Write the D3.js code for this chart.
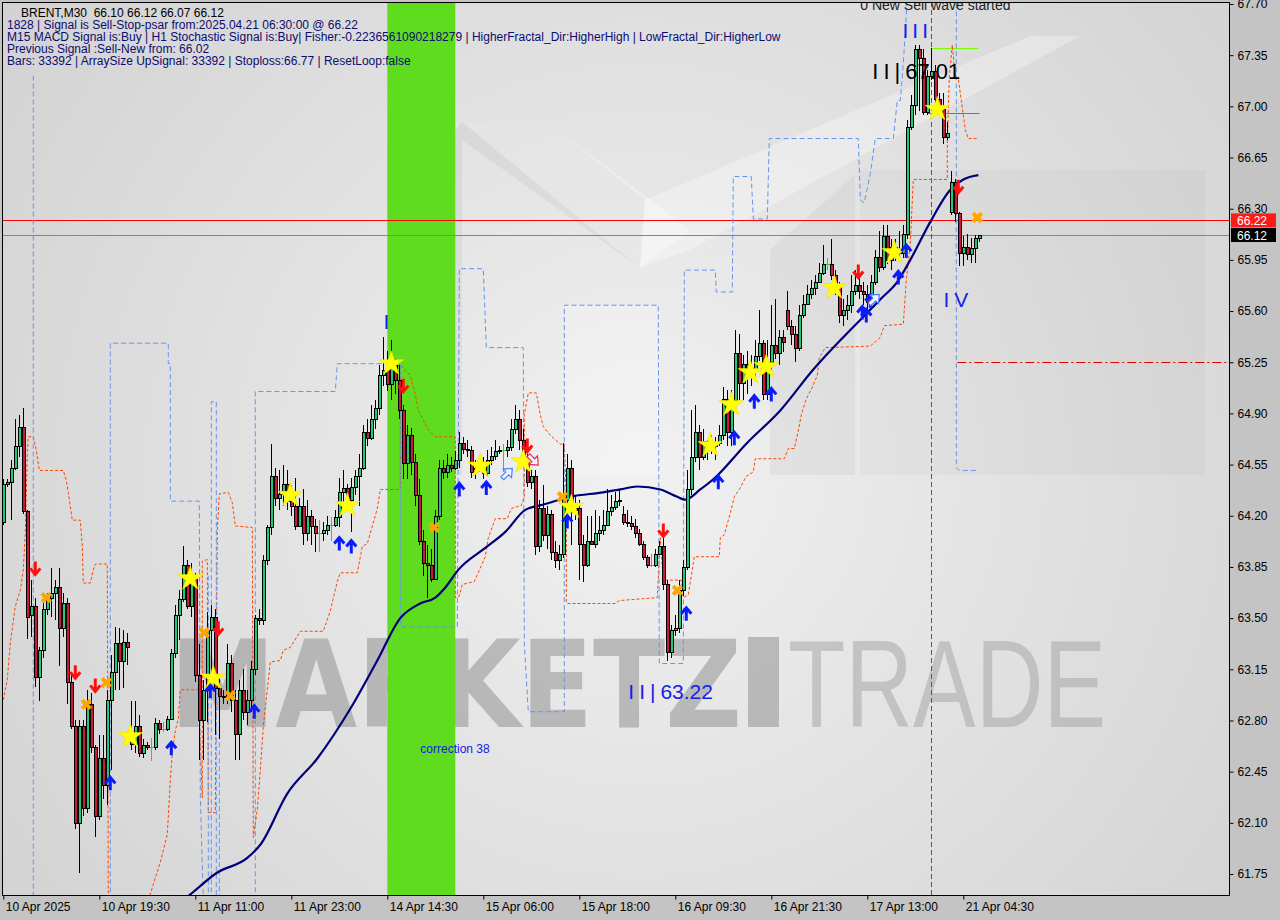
<!DOCTYPE html>
<html><head><meta charset="utf-8">
<script src="https://cdn.jsdelivr.net/npm/d3@7"></script>
<style>
body{margin:0;background:#c4c4c4;}
svg{display:block;font-family:"Liberation Sans",Arial,sans-serif;}
</style></head>
<body><svg id="c" width="1280" height="920"></svg>
<script>
// ---------------- data ----------------
const openP=[64.16,64.42,64.43,64.53,64.68,64.81,64.23,63.52,63.58,63.10,
63.28,63.56,63.64,63.67,63.71,63.43,63.60,63.06,62.76,62.10,
62.76,62.20,62.91,62.62,62.15,62.54,62.36,62.94,63.13,63.33,
63.21,63.34,62.70,62.64,62.76,62.58,62.63,62.62,62.62,62.78,
62.74,62.74,62.81,63.26,63.52,63.63,63.86,63.58,63.77,63.11,
62.80,63.01,63.42,63.51,63.02,62.97,62.96,63.19,62.94,62.71,
63.01,62.86,62.94,63.15,63.50,63.49,63.90,64.12,64.47,64.32,
64.35,64.42,64.30,64.27,64.13,64.27,64.08,64.20,64.13,64.08,
64.08,64.10,64.14,64.14,64.19,64.36,64.39,64.31,64.40,64.47,
64.53,64.77,64.73,64.86,64.94,65.16,65.20,65.10,65.23,65.13,
64.92,64.56,64.75,64.57,64.34,64.03,63.88,63.86,63.77,64.20,
64.53,64.50,64.55,64.53,64.58,64.70,64.66,64.65,64.50,64.53,
64.52,64.49,64.58,64.61,64.64,64.65,64.65,64.67,64.79,64.86,
64.72,64.59,64.43,64.47,63.99,64.25,64.07,64.21,63.95,63.90,
63.94,64.31,64.53,64.24,64.25,64.01,63.86,64.03,64.01,64.08,
64.10,64.14,64.23,64.26,64.30,64.21,64.16,64.15,64.13,64.08,
64.01,63.92,63.86,63.86,63.94,63.99,63.73,63.27,63.42,63.43,
63.69,63.85,64.38,64.60,64.77,64.60,64.71,64.67,64.68,64.70,
64.75,65.00,64.77,64.99,65.31,65.11,65.24,65.21,65.20,65.29,
65.38,65.03,65.25,65.37,65.31,65.42,65.61,65.50,65.44,65.35,
65.57,65.65,65.72,65.76,65.80,65.86,65.92,65.92,65.85,65.78,
65.57,65.61,65.64,65.74,65.78,65.74,65.72,65.66,65.80,65.97,
65.90,66.11,65.95,66.04,66.02,66.00,66.13,66.86,67.01,67.39,
67.33,66.96,67.21,67.24,67.05,66.98,66.79,66.28,66.48,66.27,
66.00,66.04,65.99,66.03,66.10];
const highP=[64.45,64.45,64.58,64.86,64.89,64.94,64.24,63.76,63.64,63.30,
63.62,63.67,63.84,63.76,63.84,63.67,63.64,63.12,62.80,62.80,
62.80,63.01,62.99,62.63,62.70,62.70,63.01,63.25,63.44,63.43,
63.42,63.40,62.93,62.93,62.84,62.67,62.65,62.68,62.82,62.80,
62.79,62.83,63.29,63.59,63.69,63.99,63.90,63.88,63.81,63.32,
63.08,63.54,63.59,63.56,63.11,63.01,63.32,63.25,63.01,63.08,
63.15,63.01,63.21,63.52,63.56,63.93,64.14,64.69,64.53,64.51,
64.55,64.51,64.41,64.46,64.32,64.38,64.31,64.24,64.18,64.17,
64.16,64.20,64.19,64.24,64.46,64.51,64.42,64.46,64.51,64.62,
64.82,64.86,64.96,64.99,65.23,65.42,65.33,65.40,65.27,65.23,
64.96,64.82,64.80,64.62,64.45,64.10,64.00,63.97,64.24,64.58,
64.58,64.62,64.60,64.64,64.77,64.74,64.72,64.68,64.58,64.58,
64.60,64.65,64.67,64.72,64.68,64.69,64.72,64.86,64.96,64.92,
64.79,64.62,64.51,64.51,64.31,64.41,64.27,64.24,64.03,64.00,
64.70,64.62,64.58,64.34,64.31,64.07,64.20,64.20,64.24,64.20,
64.24,64.38,64.34,64.36,64.38,64.27,64.24,64.20,64.18,64.11,
64.03,63.93,63.94,63.97,64.03,64.10,63.76,63.45,63.52,63.76,
63.90,64.51,64.92,64.96,64.82,64.79,64.72,64.75,64.74,64.82,
65.08,65.06,65.06,65.47,65.44,65.30,65.33,65.30,65.40,65.61,
65.40,65.40,65.64,65.68,65.47,65.47,65.74,65.54,65.50,65.64,
65.71,65.78,65.81,65.85,65.93,66.05,65.96,66.09,65.88,65.80,
65.68,65.71,65.85,65.88,65.85,65.80,65.78,65.85,66.02,66.15,
66.19,66.19,66.09,66.09,66.15,66.19,66.91,67.08,67.42,67.42,
67.39,67.25,67.40,67.28,67.09,67.09,66.89,66.56,66.50,66.28,
66.11,66.13,66.10,66.12,66.12];
const lowP=[64.14,64.40,64.17,64.51,64.60,64.21,63.36,63.37,63.03,62.93,
63.23,63.52,63.51,63.49,63.17,63.37,62.91,62.74,62.06,61.76,
62.15,62.17,62.58,62.00,62.12,62.26,62.22,62.46,63.01,63.01,
63.02,63.18,62.60,62.58,62.55,62.54,62.60,62.52,62.60,62.71,
62.72,62.73,62.80,63.23,63.35,63.61,63.56,63.51,63.06,62.53,
62.53,62.79,63.08,62.70,62.67,62.91,62.91,62.86,62.53,62.53,
62.80,62.77,62.86,63.11,63.45,63.45,63.86,64.07,64.27,64.24,
64.27,64.24,64.20,64.10,64.12,64.00,64.03,64.00,63.95,63.95,
64.03,64.07,64.03,64.12,64.12,64.27,64.24,64.09,64.34,64.27,
64.51,64.68,64.72,64.79,64.89,65.09,65.05,64.99,65.03,64.86,
64.45,64.45,64.48,64.27,64.00,63.79,63.64,63.75,63.76,64.17,
64.45,64.46,64.50,64.51,64.53,64.62,64.60,64.46,64.45,64.50,
64.45,64.47,64.55,64.58,64.62,64.50,64.60,64.64,64.76,64.65,
64.57,64.40,64.38,63.93,63.95,64.03,63.97,63.90,63.84,63.83,
63.91,64.27,64.00,64.17,63.76,63.75,63.85,64.00,63.98,64.03,
64.07,64.13,64.20,64.24,64.27,64.14,64.12,64.10,64.05,63.99,
63.90,63.84,63.85,63.85,63.94,63.69,63.21,63.23,63.38,63.40,
63.65,63.83,64.34,64.57,64.51,64.58,64.58,64.62,64.58,64.68,
64.72,64.68,64.68,64.92,64.99,64.99,65.03,65.09,65.13,65.26,
64.99,64.99,65.20,65.27,65.23,65.32,65.47,65.37,65.25,65.33,
65.55,65.64,65.68,65.71,65.79,65.85,65.88,65.81,65.71,65.52,
65.50,65.54,65.59,65.71,65.68,65.64,65.61,65.64,65.78,65.87,
65.88,65.92,65.88,65.94,65.96,65.96,66.09,66.84,66.94,66.97,
66.94,66.94,67.18,66.98,66.95,66.74,66.77,66.26,66.21,65.91,
65.91,65.95,65.93,65.93,66.07];
const closeP=[64.42,64.43,64.53,64.68,64.81,64.23,63.51,63.58,63.10,63.28,
63.56,63.64,63.67,63.71,63.43,63.60,63.06,62.76,62.10,62.76,
62.20,62.91,62.62,62.15,62.54,62.36,62.94,63.13,63.33,63.21,
63.34,63.30,62.64,62.76,62.58,62.63,62.62,62.62,62.78,62.74,
62.74,62.81,63.26,63.52,63.63,63.86,63.58,63.77,63.11,62.80,
63.01,63.42,63.51,63.02,62.97,62.96,63.19,62.94,62.71,63.01,
62.86,62.94,63.15,63.50,63.49,63.90,64.12,64.47,64.32,64.35,
64.42,64.30,64.27,64.13,64.27,64.08,64.20,64.13,64.08,64.08,
64.10,64.14,64.14,64.19,64.36,64.39,64.31,64.40,64.47,64.53,
64.77,64.73,64.86,64.94,65.16,65.20,65.10,65.23,65.13,64.92,
64.56,64.75,64.57,64.34,64.03,63.88,63.86,63.77,64.20,64.53,
64.50,64.55,64.53,64.58,64.70,64.66,64.65,64.50,64.53,64.52,
64.49,64.58,64.61,64.64,64.65,64.65,64.67,64.79,64.86,64.72,
64.59,64.43,64.47,63.99,64.25,64.07,64.21,63.95,63.90,63.94,
64.31,64.53,64.24,64.25,64.01,63.86,64.03,64.01,64.08,64.10,
64.14,64.23,64.26,64.30,64.31,64.16,64.15,64.13,64.08,64.01,
63.92,63.86,63.86,63.94,63.99,63.73,63.27,63.42,63.43,63.69,
63.85,64.38,64.60,64.77,64.60,64.71,64.67,64.68,64.70,64.75,
65.00,64.77,64.99,65.31,65.11,65.24,65.21,65.20,65.29,65.38,
65.03,65.25,65.37,65.31,65.42,65.39,65.50,65.44,65.35,65.57,
65.65,65.72,65.76,65.80,65.86,65.92,65.92,65.85,65.78,65.57,
65.61,65.64,65.74,65.78,65.74,65.72,65.66,65.80,65.97,65.90,
66.11,65.95,66.04,66.02,66.00,66.13,66.86,67.01,67.39,67.33,
66.96,67.21,67.24,67.05,66.98,66.79,66.82,66.48,66.27,66.00,
66.04,65.99,66.03,66.10,66.12];

const yTicks=[67.70,67.35,67.00,66.65,66.30,65.95,65.60,65.25,64.90,64.55,64.20,63.85,63.50,63.15,62.80,62.45,62.10,61.75];
const xTickBars=[0,24,48,72,96,120,144,168,192,216,240];
const xTickLabels=["10 Apr 2025","10 Apr 19:30","11 Apr 11:00","11 Apr 23:00","14 Apr 14:30","15 Apr 06:00","15 Apr 18:00","16 Apr 09:30","16 Apr 21:30","17 Apr 13:00","21 Apr 04:30"];

// moving average (read at sample bars)
const maLine=[[41.75,61.50],[46.75,61.61],[53.5,61.76],[61,61.86],[64.25,61.95],[71,62.30],[78.5,62.54],[86.75,62.88],[93.5,63.21],[99.25,63.50],[104.25,63.60],[108,63.64],[110.5,63.71],[113.75,63.83],[120.5,63.98],[125.5,64.09],[130.5,64.24],[135.5,64.28],[141.75,64.33],[150,64.36],[154.25,64.38],[158.5,64.40],[164.25,64.38],[168.5,64.33],[170.5,64.31],[174.25,64.38],[177.5,64.45],[186,64.70],[194.25,64.92],[202.5,65.20],[209.25,65.40],[211.75,65.47],[219.25,65.68],[223.5,65.80],[226.75,65.95],[231.75,66.21],[236.75,66.43],[240,66.50],[243.75,66.53]];

// stop (orange stepped) line
const stopSeg1=[[0,62.94],[1,63.08],[1.75,63.33],[3,63.58],[4.25,63.69],[5,63.83],[5.5,64.08],[6,64.64],[6.25,64.74],[7.5,64.74],[8.25,64.65],[9,64.51],[15,64.51],[15.75,64.44],[16.25,64.36],[17.25,64.17],[19.25,64.17],[19.75,63.99],[20,63.74],[21.75,63.74],[22.5,63.83],[23,63.87],[26,63.87],[26.25,61.57]];
const stopSeg2=[[36.25,61.57],[39.25,61.83],[41,62.02],[41.75,62.39],[42.25,62.58],[43,62.73],[43.75,62.81],[44.25,63.01],[48.75,63.01],[49.75,62.27],[49.75,63.89],[51,63.90],[51.25,62.17],[53,62.17],[53.5,64.10],[54,64.35],[56.25,64.36],[57.25,64.29],[58,64.13],[62.25,64.12],[62.5,62.00],[63.5,62.19],[64.25,62.46],[65,62.76],[66,63.01],[66.75,63.20],[69.25,63.21],[70,63.28],[71.75,63.30],[74.25,63.41],[80,63.41],[81.75,63.55],[83.5,63.75],[84.25,63.81],[88.5,63.81],[89.75,63.99],[91,64.01],[92.25,64.13],[93.5,64.25],[94.25,64.38],[99.25,64.38],[99.25,65.23],[101.75,65.16],[103,65.03],[103.75,64.92],[106.25,64.79],[108,64.74],[113,64.74],[113,63.64],[114,63.65],[114.75,63.73],[117.75,63.75],[120.5,63.92],[121.25,64.05],[123,64.18],[126,64.18],[127,64.25],[129.5,64.27],[130.25,64.33],[130.25,64.89],[131.25,65.04],[133.25,65.04],[134.25,64.89],[135,64.81],[136.75,64.75],[139.25,64.69],[140.25,64.69],[140.75,64.33],[140.75,63.61],[141,63.60],[153,63.60],[154,63.62],[163.5,63.64],[164.25,64.05],[165,63.76],[169.5,63.76],[170,63.64],[171.25,63.66],[172.75,63.92],[179,63.92],[179.25,64.05],[180.25,64.07],[182.25,64.27],[182.75,64.33],[184,64.38],[185.75,64.47],[187.5,64.50],[188,64.59],[195.25,64.59],[196.25,64.66],[197.75,64.66],[198.75,64.78],[199.5,64.89],[200.75,65.00],[202.25,65.08],[203.5,65.16],[204,65.28],[205.5,65.35],[216.75,65.36],[219.25,65.42],[220.25,65.50],[225,65.51],[225.75,65.81],[226.75,66.06],[227.5,66.50],[236,66.50],[236,66.75],[236.5,67.20],[237.25,67.42],[238,67.20],[238.75,67.19],[239.75,66.99],[240.5,66.84],[241.25,66.78],[243.5,66.78]];

// fractal channel (blue stepped) line
const chanSegs=[
 [[7.5,67.21],[7.5,61.57]],
 [[26.75,61.57],[26.75,65.38],[41.25,65.38],[41.25,65.24],[41.75,65.24],[41.75,64.30],[49,64.30],[49.25,62.29],[50,61.57]],
 [[51.25,61.57],[51.25,63.79]],
 [[52,61.57],[52,64.98],[53.25,64.98],[53.25,61.57]],
 [[54,62.76],[54,61.57]],
 [[63,61.57],[63,65.05],[83,65.05],[83.5,65.24],[99.25,65.24],[99.25,63.44],[113.5,63.44],[114,65.89],[120,65.89],[120.75,65.35],[130,65.35],[130.25,63.33],[131.25,62.86],[140.25,62.86],[140.25,65.64],[163.75,65.64],[164,63.19],[170,63.19],[170.25,65.88],[178,65.88],[178.25,65.73],[182.25,65.73],[182.5,66.52],[187,66.52],[187.5,66.23],[191,66.23],[191.5,66.78],[213.75,66.78],[214.25,66.36],[215.25,66.34],[216.75,66.54],[218,66.78],[222.5,66.78],[223.5,67.04],[224.25,67.04],[224.75,67.20],[225.5,67.50],[226,67.76]],
 [[238.25,67.76],[238.25,64.53],[239,64.51],[243.5,64.51]]
];

// signal markers [bar, price]
const starMarks=[[31.75,62.69],[46.75,63.77],[52.5,63.09],[71.75,64.34],[86,64.27],[97,65.24],[119.25,64.54],[130,64.57],[142,64.26],[176.75,64.68],[182,64.96],[186.75,65.18],[190.75,65.22],[207.75,65.76],[222.75,66.00],[233.5,66.98]];
const crossMarks=[[10.75,63.64],[20.75,62.91],[25.75,63.06],[50.25,63.40],[56.75,62.97],[107.75,64.12],[139.75,64.33],[168.5,63.69],[243.5,66.24]];
const sellArrows=[[8,63.84],[18,63.13],[23,63.04],[53.75,63.43],[100,65.09],[131,64.68],[165,64.10],[213.75,65.87],[238.75,66.45]];
const buyArrows=[[26.75,62.37],[42,62.61],[51.75,63.00],[62.75,62.86],[84,64.01],[87,63.99],[114,64.38],[120.75,64.39],[141,64.16],[170.75,63.53],[178.75,64.43],[182.75,64.73],[187.75,64.98],[192,65.03],[214.75,65.59],[215.75,65.57],[216.75,65.67],[223.75,65.83],[225.75,66.01]];
const hollowBuy=[[126,64.49],[217.75,65.68]];
const hollowSell=[[132.5,64.58]];

const correctionBand=[96,113];
const bidPrice=66.12, signalPrice=66.22, targetPrice=65.25, highLine=67.40, stopLine=66.955;
const separatorBar=232;

// ---------------- drawing ----------------
const svg=d3.select("#c");
const PL=2,PR=1229,PT=2,PB=895;
const x=d3.scaleLinear().domain([0,306]).range([3.3,3.3+4*306]);
const y=d3.scaleLinear().domain([61.75,67.70]).range([874,4]);
const defs=svg.append("defs");
const rg=defs.append("radialGradient").attr("id","bg").attr("gradientUnits","userSpaceOnUse")
 .attr("cx",640).attr("cy",470).attr("r",760);
rg.append("stop").attr("offset",0).attr("stop-color","#f1f1f1");
rg.append("stop").attr("offset",1).attr("stop-color","#d3d3d3");
defs.append("clipPath").attr("id","clip").append("rect").attr("x",PL).attr("y",PT).attr("width",PR-PL).attr("height",PB-PT);

svg.append("rect").attr("width",1280).attr("height",920).attr("fill","#c4c4c4");
svg.append("rect").attr("x",PL).attr("y",PT).attr("width",PR-PL).attr("height",PB-PT).attr("fill","url(#bg)");

const g=svg.append("g").attr("clip-path","url(#clip)");

// background logo (decoration)
const logo=g.append("g");
logo.append("polygon").attr("points","437,150 462,122 548,122 645,200 640,268 462,140 462,475 437,475").attr("fill","#000").attr("opacity",0.045);
logo.append("polygon").attr("points","645,200 1030,36 1080,36 690,250 640,268").attr("fill","#fff").attr("opacity",0.3);
logo.append("polygon").attr("points","462,122 548,122 690,230 640,268").attr("fill","#fff").attr("opacity",0.3);
logo.append("polygon").attr("points","770,250 855,175 855,475 770,475").attr("fill","#000").attr("opacity",0.04);
logo.append("polygon").attr("points","860,170 1205,170 1205,475 860,475").attr("fill","#000").attr("opacity",0.025);
logo.append("polygon").attr("points","565,305 660,305 660,475 565,475").attr("fill","#fff").attr("opacity",0.22);

// watermark text
g.append("text").attr("x",170).attr("y",727).attr("font-family","DejaVu Sans").attr("font-weight","bold")
 .attr("font-size",122).attr("textLength",572).attr("lengthAdjust","spacingAndGlyphs").attr("fill","#9a9a9a").attr("opacity",0.6).text("MARKETZ");
g.append("rect").attr("x",748).attr("y",637).attr("width",31).attr("height",90).attr("fill","#9a9a9a").attr("opacity",0.6);
g.append("text").attr("x",788).attr("y",727).attr("font-family","Liberation Sans").attr("font-size",124)
 .attr("textLength",318).attr("lengthAdjust","spacingAndGlyphs").attr("fill","#a8a8a8").attr("opacity",0.55).text("TRADE");

// correction band
g.append("rect").attr("x",x(correctionBand[0])).attr("y",PT).attr("width",x(correctionBand[1])-x(correctionBand[0])).attr("height",PB-PT).attr("fill","#5fdc1e");

// horizontal lines
g.append("line").attr("x1",PL).attr("x2",PR).attr("y1",Math.round(y(signalPrice))+0.5).attr("y2",Math.round(y(signalPrice))+0.5).attr("stroke","#ff0000");
g.append("line").attr("x1",PL).attr("x2",PR).attr("y1",Math.round(y(bidPrice))+0.5).attr("y2",Math.round(y(bidPrice))+0.5).attr("stroke","#7a8896");
g.append("line").attr("x1",x(238.5)).attr("x2",PR).attr("y1",Math.round(y(targetPrice))+0.5).attr("y2",Math.round(y(targetPrice))+0.5).attr("stroke","#e00000").attr("stroke-dasharray","9,3,2,3");
g.append("line").attr("x1",x(232)).attr("x2",x(243.75)).attr("y1",Math.round(y(highLine))+0.5).attr("y2",Math.round(y(highLine))+0.5).attr("stroke","#7cfc00");
g.append("line").attr("x1",x(231)).attr("x2",x(244)).attr("y1",Math.round(y(stopLine))+0.5).attr("y2",Math.round(y(stopLine))+0.5).attr("stroke","#ff4500");
g.append("line").attr("x1",Math.round(x(separatorBar))+0.5).attr("x2",Math.round(x(separatorBar))+0.5).attr("y1",PT).attr("y2",PB).attr("stroke","#c71585").attr("stroke-dasharray","5,3");

const ln=d3.line().x(d=>x(d[0])).y(d=>y(d[1]));
[stopSeg1,stopSeg2].forEach(s=>g.append("path").attr("d",ln(s)).attr("fill","none").attr("stroke","#ff4500").attr("stroke-width",1).attr("stroke-dasharray","3,2"));
chanSegs.forEach(s=>g.append("path").attr("d",ln(s)).attr("fill","none").attr("stroke","#6495ed").attr("stroke-width",1).attr("stroke-dasharray","5,3"));
g.append("path").attr("d",ln.curve(d3.curveMonotoneX)(maLine)).attr("fill","none").attr("stroke","#00007a").attr("stroke-width",2.2);

// candles
const cg=g.append("g").attr("shape-rendering","crispEdges");
closeP.forEach((c,i)=>{
  const o=openP[i],h=highP[i],l=lowP[i];
  const cx=Math.round(x(i))+0.5;
  if(o===c){
    cg.append("line").attr("x1",cx).attr("x2",cx).attr("y1",y(h)).attr("y2",y(l)).attr("stroke","#32cd32");
    cg.append("line").attr("x1",cx-2).attr("x2",cx+2).attr("y1",Math.round(y(o))+0.5).attr("y2",Math.round(y(o))+0.5).attr("stroke","#32cd32");
    return;
  }
  cg.append("line").attr("x1",cx).attr("x2",cx).attr("y1",y(h)).attr("y2",y(l)).attr("stroke","#000");
  const top=Math.round(y(Math.max(o,c))), bot=Math.round(y(Math.min(o,c)));
  cg.append("rect").attr("x",cx-1.5).attr("y",top+0.5).attr("width",3).attr("height",Math.max(1,bot-top))
    .attr("fill",c>o?"#20c878":"#c8183c").attr("stroke","#000").attr("stroke-width",1);
});

// markers
const mg=g.append("g");
starMarks.forEach(d=>mg.append("path").attr("d",d3.symbol(d3.symbolStar,190)()).attr("transform",`translate(${x(d[0])},${y(d[1])})`).attr("fill","#ffff00").attr("stroke","#f0e000").attr("stroke-width",0.6));
crossMarks.forEach(d=>mg.append("path").attr("d",d3.symbol(d3.symbolCross,80)()).attr("transform",`translate(${x(d[0])},${y(d[1])}) rotate(45)`).attr("fill","#ffa500"));
buyArrows.forEach(d=>mg.append("path").attr("d","M-5,0 L0,-6 L5,0 M0,-5 V7").attr("transform",`translate(${x(d[0])},${y(d[1])})`).attr("fill","none").attr("stroke","#0a1cff").attr("stroke-width",3));
sellArrows.forEach(d=>mg.append("path").attr("d","M-5,0 L0,6 L5,0 M0,5 V-7").attr("transform",`translate(${x(d[0])},${y(d[1])})`).attr("fill","none").attr("stroke","#ff1010").attr("stroke-width",3));
hollowBuy.forEach(d=>mg.append("path").attr("d","M0,-7 L6,0 L2,0 L2,7 L-2,7 L-2,0 L-6,0 Z").attr("transform",`translate(${x(d[0])},${y(d[1])}) rotate(45)`).attr("fill","#f4f8ff").attr("stroke","#4a7dff").attr("stroke-width",1.2));
hollowSell.forEach(d=>mg.append("path").attr("d","M0,7 L6,0 L2,0 L2,-7 L-2,-7 L-2,0 L-6,0 Z").attr("transform",`translate(${x(d[0])},${y(d[1])}) rotate(-45)`).attr("fill","#fff4f6").attr("stroke","#e0306a").attr("stroke-width",1.2));

// wave labels
const waveLabels=[
 {t:"I",b:95.75,p:65.48,c:"#1420e6",s:21,a:"middle",ls:0},
 {t:"III",b:228.5,p:67.47,c:"#1420e6",s:21,a:"middle",ls:4},
 {t:"IV",b:238.75,p:65.63,c:"#1420e6",s:21,a:"middle",ls:5},
 {t:"II|63.22",b:156.25,p:62.95,c:"#1420e6",s:21,a:"start",ls:0},
 {t:"II|67.01",b:217.25,p:67.19,c:"#000",s:22,a:"start",ls:0},
 {t:"correction 38",b:104.25,p:62.58,c:"#1420e6",s:12,a:"start",ls:0},
 {t:"0 New Sell wave started",b:214.25,p:67.66,c:"#222",s:14,a:"start",ls:0}
];
waveLabels.forEach(d=>{
  const t=g.append("text").attr("x",x(d.b)).attr("y",y(d.p)).attr("fill",d.c).attr("font-size",d.s).attr("text-anchor",d.a);
  if(d.t.includes("|")){
    const parts=d.t.split("|");
    t.append("tspan").attr("letter-spacing",5).text(parts[0]+"|");
    t.append("tspan").text(parts[1]);
  } else t.attr("letter-spacing",d.ls).text(d.t);
});

// border
svg.append("rect").attr("x",PL+0.5).attr("y",PT+0.5).attr("width",PR-PL).attr("height",PB-PT).attr("fill","none").attr("stroke","#000");

// axes
const ya=svg.append("g").attr("transform",`translate(${PR+0.5},0)`)
 .call(d3.axisRight(y).tickValues(yTicks).tickSize(4).tickPadding(4).tickFormat(d=>d.toFixed(2)));
ya.select(".domain").remove();
ya.selectAll("text").attr("font-size",12).attr("font-family","Liberation Sans").attr("fill","#000");
const xa=svg.append("g").attr("transform",`translate(0,${PB+0.5})`)
 .call(d3.axisBottom(x).tickValues(xTickBars).tickSize(4).tickPadding(3).tickFormat((d,i)=>xTickLabels[i]));
xa.select(".domain").remove();
xa.selectAll("text").attr("font-size",12).attr("font-family","Liberation Sans").attr("text-anchor","start").attr("dx",2).attr("fill","#000");

// price boxes
[[signalPrice,"#ff1a1a"],[bidPrice,"#000"]].forEach(([p,c])=>{
  const yy=y(p);
  svg.append("rect").attr("x",1231).attr("y",yy-7).attr("width",45).attr("height",14).attr("fill",c);
  svg.append("text").attr("x",1237).attr("y",yy+4.5).attr("fill","#fff").attr("font-size",12).text(p.toFixed(2));
});

// info text
const info=["1828 | Signal is Sell-Stop-psar from:2025.04.21 06:30:00 @ 66.22",
"M15 MACD Signal is:Buy | H1 Stochastic Signal is:Buy| Fisher:-0.2236561090218279 | HigherFractal_Dir:HigherHigh | LowFractal_Dir:HigherLow",
"Previous Signal :Sell-New from: 66.02",
"Bars: 33392 | ArraySize UpSignal: 33392 | Stoploss:66.77 | ResetLoop:false"];
svg.append("text").attr("x",21).attr("y",17).attr("font-size",12).attr("fill","#000").attr("xml:space","preserve").text("BRENT,M30  66.10 66.12 66.07 66.12");
info.forEach((t,i)=>svg.append("text").attr("x",7).attr("y",29+12*i).attr("font-size",12).attr("fill","#0c0c70").text(t));
</script></body></html>
